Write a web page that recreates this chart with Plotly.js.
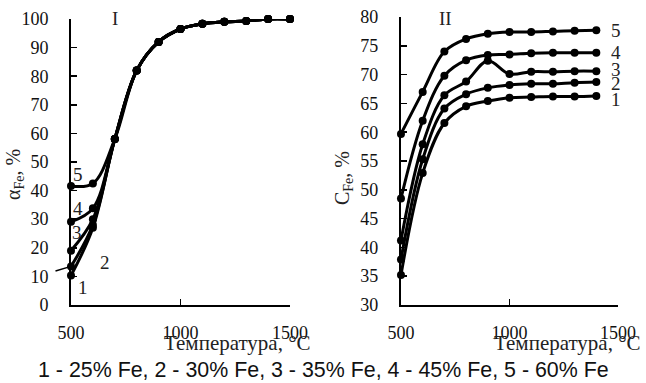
<!DOCTYPE html>
<html>
<head>
<meta charset="utf-8">
<script src="https://cdn.plot.ly/plotly-3.0.1.min.js"></script>
<style>html,body{margin:0;padding:0;background:#fff;}#chart{width:646px;height:383px;}</style>
</head>
<body>
<div id="chart"></div>
<script>
// Panel I: degree of Fe extraction (alpha_Fe, %) vs temperature
const tempI = [500, 600, 700, 800, 900, 1000, 1100, 1200, 1300, 1400, 1500];
const alpha1 = [10.3, 27, 58, 82, 92, 96.5, 98.3, 99, 99.3, 100, 100];
const alpha2 = [13.5, 28, 58, 82, 92, 96.5, 98.3, 99, 99.3, 100, 100];
const alpha3 = [19, 30, 58, 82, 92, 96.5, 98.3, 99, 99.3, 100, 100];
const alpha4 = [29.1, 33.8, 58, 82, 92, 96.5, 98.3, 99, 99.3, 100, 100];
const alpha5 = [41.6, 42.5, 58, 82, 92, 96.5, 98.3, 99, 99.3, 100, 100];

// Panel II: Fe content (C_Fe, %) vs temperature
const tempII = [500, 600, 700, 800, 900, 1000, 1100, 1200, 1300, 1400];
const conc1 = [35.2, 52.9, 61.6, 64.5, 65.4, 66.0, 66.1, 66.2, 66.2, 66.3];
const conc2 = [37.9, 55.3, 64.1, 66.6, 67.7, 68.2, 68.4, 68.4, 68.6, 68.7];
const conc3 = [41.2, 57.9, 66.4, 68.8, 72.4, 70.1, 70.5, 70.5, 70.6, 70.6];
const conc4 = [48.5, 62.0, 69.8, 72.5, 73.4, 73.5, 73.7, 73.8, 73.8, 73.8];
const conc5 = [59.7, 67.0, 74.0, 76.2, 77.1, 77.4, 77.4, 77.5, 77.6, 77.7];

const curveLabels = ['1', '2', '3', '4', '5'];
const legendText = '1 - 25% Fe, 2 - 30% Fe, 3 - 35% Fe, 4 - 45% Fe, 5 - 60% Fe';
const xTitle = 'Температура, °C';

const serif = '"Liberation Serif", "Times New Roman", serif';
const sans = '"Liberation Sans", Arial, sans-serif';
const lineStyle = {color: '#000', width: 3, shape: 'spline', smoothing: 1};
const markerStyle = {color: '#000', size: 8};

const alphaSeries = [alpha1, alpha2, alpha3, alpha4, alpha5];
const concSeries = [conc1, conc2, conc3, conc4, conc5];

const traces = [];
alphaSeries.forEach((ys, i) => traces.push({
  x: tempI, y: ys, xaxis: 'x', yaxis: 'y', type: 'scatter', mode: 'lines+markers',
  line: lineStyle, marker: markerStyle, name: curveLabels[i], showlegend: false, hoverinfo: 'skip', cliponaxis: false
}));
concSeries.forEach((ys, i) => traces.push({
  x: tempII, y: ys, xaxis: 'x2', yaxis: 'y2', type: 'scatter', mode: 'lines+markers',
  line: lineStyle, marker: markerStyle, name: curveLabels[i], showlegend: false, hoverinfo: 'skip', cliponaxis: false
}));

const axisCommon = {
  showgrid: false, zeroline: false, showline: true, linecolor: '#000', linewidth: 2,
  ticks: 'inside', ticklen: 6, tickwidth: 1.5, tickcolor: '#000',
  tickfont: {family: serif, size: 18, color: '#111'}
};

const labelFont = {family: serif, size: 19, color: '#222'};
function lab(xref, yref, x, y, text, xanchor) {
  return {xref: xref, yref: yref, x: x, y: y, text: text, showarrow: false,
          xanchor: xanchor || 'center', yanchor: 'middle', font: labelFont};
}
const annotations = [
  // panel labels
  lab('paper', 'paper', 0.178, 0.953, 'I'),
  lab('paper', 'paper', 0.690, 0.953, 'II'),
  // left curve numbers
  lab('x', 'y', 532, 45.5, curveLabels[4]),
  lab('x', 'y', 532, 33.9, curveLabels[3]),
  lab('x', 'y', 527, 25.2, curveLabels[2]),
  lab('x', 'y', 655, 15, curveLabels[1]),
  lab('x', 'y', 555, 6, curveLabels[0]),
  // leader line at curve 2 start
  {xref: 'x', yref: 'y', x: tempI[0], y: alpha2[0], text: '', showarrow: true,
   arrowhead: 0, arrowwidth: 1.5, arrowcolor: '#000', ax: -17, ay: 5},
  // right curve numbers
  lab('x2', 'y2', 1460, 77.7, curveLabels[4], 'left'),
  lab('x2', 'y2', 1460, 73.9, curveLabels[3], 'left'),
  lab('x2', 'y2', 1460, 70.9, curveLabels[2], 'left'),
  lab('x2', 'y2', 1460, 68.4, curveLabels[1], 'left'),
  lab('x2', 'y2', 1460, 65.6, curveLabels[0], 'left'),
  // axis titles
  {xref: 'paper', yref: 'paper', x: 0.367, y: 0.104, text: xTitle, showarrow: false, xanchor: 'center', yanchor: 'middle', font: {family: serif, size: 21, color: '#222'}},
  {xref: 'paper', yref: 'paper', x: 0.878, y: 0.104, text: xTitle, showarrow: false, xanchor: 'center', yanchor: 'middle', font: {family: serif, size: 21, color: '#222'}},
  {xref: 'paper', yref: 'paper', x: 0.0217, y: 0.543, text: 'α<sub>Fe</sub>, %', showarrow: false, textangle: -90, xanchor: 'center', yanchor: 'middle', font: {family: serif, size: 20, color: '#222'}},
  {xref: 'paper', yref: 'paper', x: 0.531, y: 0.535, text: 'C<sub>Fe</sub>, %', showarrow: false, textangle: -90, xanchor: 'center', yanchor: 'middle', font: {family: serif, size: 20, color: '#222'}},
  // bottom legend line
  {xref: 'paper', yref: 'paper', x: 0.5, y: 0.034, text: legendText, showarrow: false, xanchor: 'center', yanchor: 'middle', font: {family: sans, size: 21.4, color: '#111'}}
];

const layout = {
  width: 646, height: 383,
  margin: {l: 0, r: 0, t: 0, b: 0},
  paper_bgcolor: '#fff', plot_bgcolor: '#fff',
  showlegend: false,
  xaxis: Object.assign({}, axisCommon, {domain: [0.1099, 0.4489], range: [500, 1500], tickvals: [500, 1000, 1500], ticklabelstandoff: 10, anchor: 'y'}),
  yaxis: Object.assign({}, axisCommon, {domain: [0.2037, 0.9504], range: [0, 100], dtick: 10, ticklabelstandoff: 17, anchor: 'x'}),
  xaxis2: Object.assign({}, axisCommon, {domain: [0.6207, 0.9567], range: [500, 1500], tickvals: [500, 1000, 1500], ticklabelstandoff: 10, anchor: 'y2'}),
  yaxis2: Object.assign({}, axisCommon, {domain: [0.2037, 0.9556], range: [30, 80], dtick: 5, ticklabelstandoff: 17, anchor: 'x2'}),
  annotations: annotations
};

Plotly.newPlot('chart', traces, layout, {staticPlot: true, displayModeBar: false});
</script>
</body>
</html>
